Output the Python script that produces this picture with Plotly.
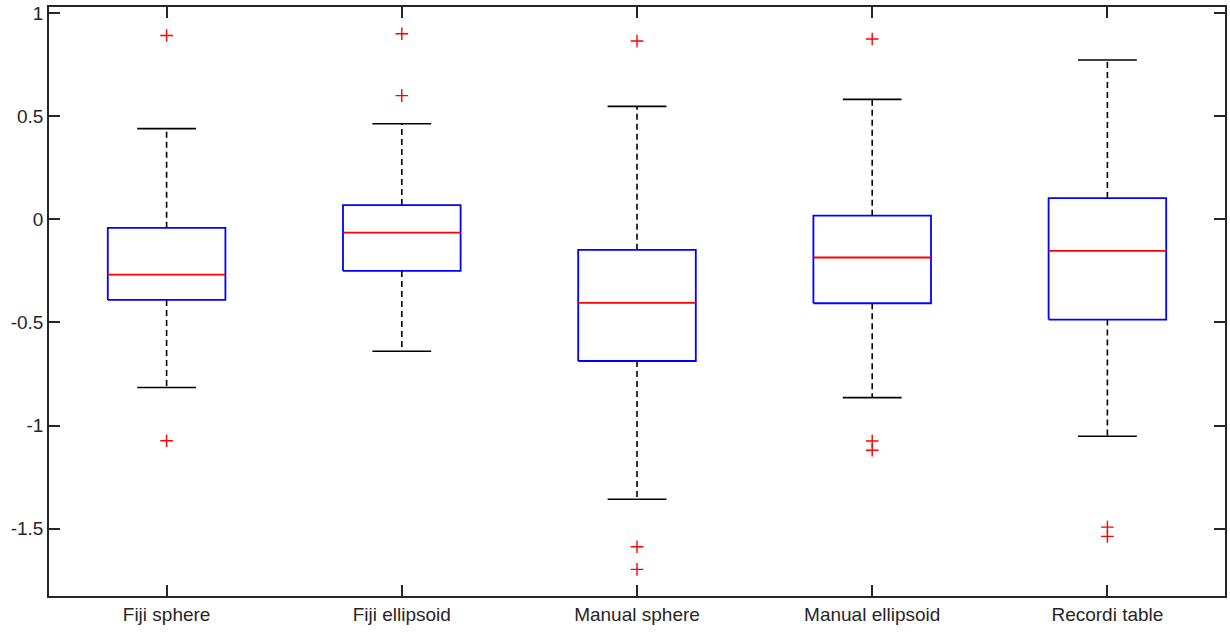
import plotly.graph_objects as go

categories = ["Fiji sphere", "Fiji ellipsoid", "Manual sphere", "Manual ellipsoid", "Recordi table"]
upper_whisker = [0.440, 0.464, 0.548, 0.582, 0.773]
q3 = [-0.041, 0.069, -0.148, 0.018, 0.103]
median = [-0.268, -0.064, -0.405, -0.185, -0.153]
q1 = [-0.391, -0.250, -0.687, -0.407, -0.486]
lower_whisker = [-0.816, -0.640, -1.358, -0.865, -1.052]
outliers = [
    [0.892, -1.074],
    [0.900, 0.600],
    [0.865, -1.588, -1.698],
    [0.875, -1.075, -1.120],
    [-1.493, -1.538],
]
ytick_vals = [1, 0.5, 0, -0.5, -1, -1.5]
ytick_text = ["1", "0.5", "0", "-0.5", "-1", "-1.5"]

BOX_HALF = 0.25
CAP_HALF = 0.125
AX = "#262626"

bx, by, mx, my, wx, wy, cx, cy, ox, oy = [], [], [], [], [], [], [], [], [], []
for i in range(len(categories)):
    p = i + 1
    bx += [p - BOX_HALF, p + BOX_HALF, p + BOX_HALF, p - BOX_HALF, p - BOX_HALF, None]
    by += [q1[i], q1[i], q3[i], q3[i], q1[i], None]
    mx += [p - BOX_HALF, p + BOX_HALF, None]
    my += [median[i], median[i], None]
    wx += [p, p, None, p, p, None]
    wy += [q3[i], upper_whisker[i], None, q1[i], lower_whisker[i], None]
    cx += [p - CAP_HALF, p + CAP_HALF, None, p - CAP_HALF, p + CAP_HALF, None]
    cy += [upper_whisker[i], upper_whisker[i], None, lower_whisker[i], lower_whisker[i], None]
    for v in outliers[i]:
        ox.append(p)
        oy.append(v)

fig = go.Figure()
fig.add_trace(go.Scatter(x=wx, y=wy, mode="lines", line=dict(color="black", width=1.6, dash="6px,4px"),
                         hoverinfo="skip", showlegend=False))
fig.add_trace(go.Scatter(x=cx, y=cy, mode="lines", line=dict(color="black", width=1.6),
                         hoverinfo="skip", showlegend=False))
fig.add_trace(go.Scatter(x=bx, y=by, mode="lines", line=dict(color="#0000ff", width=1.8),
                         hoverinfo="skip", showlegend=False))
fig.add_trace(go.Scatter(x=mx, y=my, mode="lines", line=dict(color="#ff0000", width=1.8),
                         hoverinfo="skip", showlegend=False))
fig.add_trace(go.Scatter(x=ox, y=oy, mode="markers",
                         marker=dict(symbol="cross-thin", size=9, line=dict(color="#ff0000", width=1.4)),
                         hoverinfo="skip", showlegend=False))

fig.update_layout(
    width=1230, height=632,
    margin=dict(l=49, r=3, t=7, b=36),
    paper_bgcolor="white", plot_bgcolor="white",
    font=dict(family="Liberation Sans, Arial, sans-serif", size=19, color=AX),
    showlegend=False,
)
fig.update_xaxes(
    range=[0.5, 5.5], tickvals=[1, 2, 3, 4, 5], ticktext=categories,
    showgrid=False, zeroline=False, showline=True, linecolor=AX, linewidth=1.5,
    mirror="ticks", ticks="inside", ticklen=11, tickwidth=1.5, tickcolor=AX,
)
fig.update_yaxes(
    range=[-1.827, 1.030], tickvals=ytick_vals, ticktext=ytick_text,
    showgrid=False, zeroline=False, showline=True, linecolor=AX, linewidth=1.5,
    mirror="ticks", ticks="inside", ticklen=11, tickwidth=1.5, tickcolor=AX,
)
fig.write_html("out.html")
